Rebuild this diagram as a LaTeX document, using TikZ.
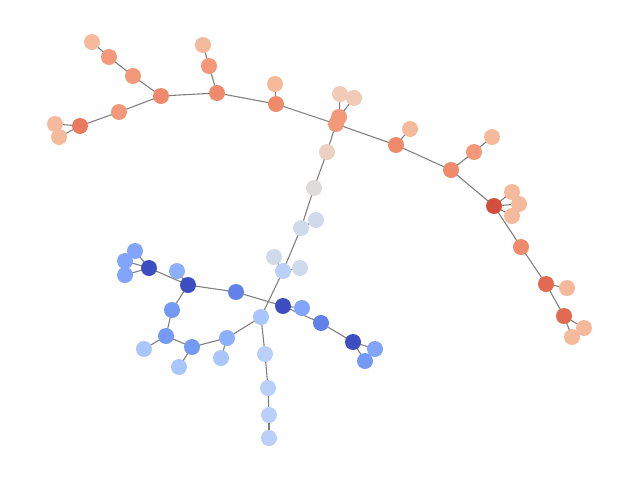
\documentclass[tikz,border=0pt]{standalone}
\definecolor{edgec}{RGB}{128,128,128}
\definecolor{sL}{RGB}{245,186,156}
\definecolor{sM}{RGB}{243,153,122}
\definecolor{sH}{RGB}{239,138,108}
\definecolor{sD}{RGB}{233,122,95}
\definecolor{rD}{RGB}{212,78,64}
\definecolor{rM}{RGB}{226,105,82}
\definecolor{bg1}{RGB}{242,203,183}
\definecolor{bg2}{RGB}{236,208,192}
\definecolor{gr}{RGB}{221,220,218}
\definecolor{gb}{RGB}{207,218,234}
\definecolor{lb1}{RGB}{186,208,248}
\definecolor{lb2}{RGB}{170,199,253}
\definecolor{lb3}{RGB}{141,176,254}
\definecolor{mb1}{RGB}{117,154,246}
\definecolor{mb2}{RGB}{98,130,234}
\definecolor{db}{RGB}{60,78,194}
\definecolor{lf}{RGB}{130,165,251}
\tikzset{vtx/.style={circle,inner sep=0pt,minimum size=16pt,draw=none},
  edg/.style={draw=edgec,line width=1.1pt}}
\begin{document}
\begin{tikzpicture}[x=1pt,y=-1pt]
\useasboundingbox (0,0) rectangle (640,480);
% nodes: name/x/y
\foreach \n/\x/\y in {
 a1/92/42, a2/109/57, a3/133/76, h1/161/96, b1/119/112, b2/80/126, b3/55/124, b4/59/137,
 h2/217/93, c1/209/66, c2/203/45, h3/276/104, d1/275/84, h4/336/124, e1/339/117, e2/340/94, e3/354/98,
 f1/327/152, f2/314/188, f3/301/228, f3b/316/220, f4/283/271, f4a/274/257, f4b/300/268,
 g1/261/317, g2/265/354, g3/268/388, g4/269/415, g5/269/438,
 k1/227/338, k2/221/358, k3/192/347, k4/179/367, k5/166/336, k6/144/349, k7/172/310,
 m1/188/285, m2/177/271, m3/149/268, m4/135/251, m5/125/261, m6/125/275,
 p1/236/292, p2/283/306, p3/302/308, p4/321/323, p5/353/342, p6/375/349, p7/365/361,
 r1/396/145, r2/410/129, r3/451/170, r4/474/152, r5/492/137, r6/494/206, r7/512/192, r8/519/204, r9/512/216,
 s1/521/247, s2/546/284, s3/567/288, s4/564/316, s5/584/328, s6/572/337}
 {\coordinate (\n) at (\x,\y);}
% edges
\foreach \u/\v in {a1/a2,a2/a3,a3/h1,h1/b1,b1/b2,b2/b3,b2/b4,h1/h2,h2/c1,c1/c2,h2/h3,h3/d1,h3/h4,
 h4/e1,e1/e2,e1/e3,h4/f1,f1/f2,f2/f3,f3/f3b,f3/f4,f4/f4a,f4/f4b,f4/g1,g1/g2,g2/g3,g3/g4,g4/g5,
 g1/k1,k1/k2,k1/k3,k3/k4,k3/k5,k5/k6,k5/k7,k7/m1,m1/m2,m1/m3,m3/m4,m3/m5,m3/m6,m1/p1,p1/p2,
 p2/p3,p2/p4,p4/p5,p5/p6,p5/p7,h4/r1,r1/r2,r1/r3,r3/r4,r4/r5,r3/r6,r6/r7,r6/r8,r6/r9,r6/s1,
 s1/s2,s2/s3,s2/s4,s4/s5,s4/s6}
 {\draw[edg] (\u) -- (\v);}
\foreach \n/\c in {a1/sL,a2/sM,a3/sM,h1/sH,b1/sM,b2/sD,b3/sL,b4/sL,h2/sH,c1/sM,c2/sL,h3/sH,d1/sL,
 h4/sM,e2/bg1,e3/bg1,e1/sM,f1/bg2,f2/gr,f3/gb,f3b/gb,f4a/gb,f4b/gb,f4/lb1,g1/lb2,g2/lb1,g3/lb1,g4/lb1,g5/lb1,
 k1/lb3,k2/lb2,k3/mb1,k4/lb2,k5/mb1,k6/lb2,k7/mb1,m1/db,m2/lb3,m3/db,m4/lf,m5/lf,m6/lf,p1/mb2,p2/db,p3/lf,
 p4/mb2,p5/db,p6/lf,p7/mb1,r1/sH,r2/sL,r3/sH,r4/sM,r5/sL,r7/sL,r8/sL,r9/sL,r6/rD,s1/sH,s2/rM,s3/sL,s4/rM,s5/sL,s6/sL}
 {\node[vtx,fill=\c] (v\n) at (\n) {};}
\end{tikzpicture}
\end{document}
